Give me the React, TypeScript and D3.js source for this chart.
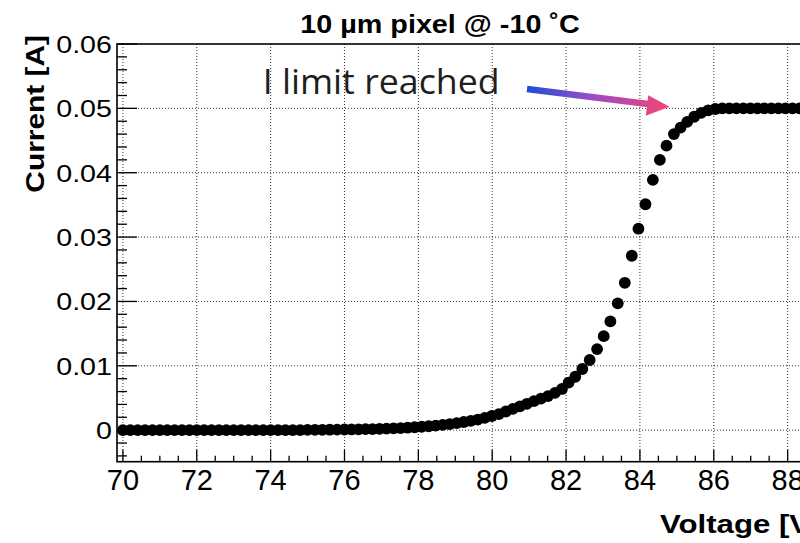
import React from "react";
import * as d3 from "d3";

// Measured I-V points (Voltage [V], Current [A])
const voltage = [
  70.0, 70.2, 70.4, 70.6, 70.8, 71.0, 71.2, 71.4, 71.6, 71.8,
  72.0, 72.2, 72.4, 72.6, 72.8, 73.0, 73.2, 73.4, 73.6, 73.8,
  74.0, 74.2, 74.4, 74.6, 74.8, 75.0, 75.2, 75.4, 75.6, 75.8,
  76.0, 76.19, 76.38, 76.57, 76.76, 76.95, 77.14, 77.33, 77.52, 77.71,
  77.9, 78.09, 78.28, 78.47, 78.66, 78.85, 79.04, 79.23, 79.42, 79.61,
  79.8, 79.99, 80.18, 80.37, 80.56, 80.75, 80.94, 81.13, 81.32, 81.51,
  81.7, 81.89, 82.07, 82.25, 82.44, 82.64, 82.84, 83.02, 83.2, 83.4,
  83.59, 83.78, 83.96, 84.15, 84.35, 84.54, 84.72, 84.92, 85.1, 85.28,
  85.47, 85.66, 85.85, 86.04, 86.23, 86.42, 86.61, 86.8, 86.99, 87.18,
  87.37, 87.56, 87.75, 87.94, 88.13, 88.32, 88.51, 88.7, 88.89, 89.08,
  89.27, 89.46, 89.65, 89.84, 90.03,
];
const current = [
  0, 0, 0, 0, 0, 0, 0, 0, 0, 0,
  0, 0, 0, 0, 0, 0, 0, 0, 0, 0,
  0, 0, 0, 0, 0, 0.00004, 0.00005, 0.00006, 0.00007, 0.00008,
  0.0001, 0.00011, 0.00013, 0.00015, 0.00017, 0.0002, 0.00023, 0.00027, 0.00032, 0.00038,
  0.00045, 0.00053, 0.00061, 0.0007, 0.00081, 0.00094, 0.0011, 0.00127, 0.00145, 0.00165,
  0.0019, 0.0022, 0.0025, 0.0029, 0.0033, 0.0037, 0.0041, 0.0045, 0.0049, 0.0053,
  0.0058, 0.0064, 0.0074, 0.0083, 0.0095, 0.0109, 0.0126, 0.0146, 0.0169, 0.0197,
  0.0229, 0.0271, 0.0313, 0.0351, 0.0389, 0.042, 0.0442, 0.046, 0.047, 0.0479,
  0.0487, 0.0493, 0.0497, 0.0499, 0.05, 0.05, 0.05, 0.05, 0.05, 0.05,
  0.05, 0.05, 0.05, 0.05, 0.05, 0.05, 0.05, 0.05, 0.05, 0.05,
  0.05, 0.05, 0.05, 0.05, 0.05,
];

const xTickValues = [70, 72, 74, 76, 78, 80, 82, 84, 86, 88, 90];
const xTickLabels = ["70", "72", "74", "76", "78", "80", "82", "84", "86", "88", "90"];
const yTickValues = [0, 0.01, 0.02, 0.03, 0.04, 0.05, 0.06];
const yTickLabels = ["0", "0.01", "0.02", "0.03", "0.04", "0.05", "0.06"];

const titleText = "10 µm pixel @ -10 ˚C";
const xTitle = "Voltage [V]";
const yTitle = "Current [A]";
const noteText = "I limit reached";

export default function App() {
  const W = 800;
  const H = 543;
  const left = 117;
  const top = 44;
  const bottom = 461.7;
  const right = 861.5;
  const x = d3.scaleLinear().domain([69.84, 90]).range([left, right]);
  const y = d3.scaleLinear().domain([-0.0049, 0.06]).range([bottom, top]);

  const xMinor = d3.range(70, 90.001, 0.5).filter((v) => Math.abs(v / 2 - Math.round(v / 2)) > 1e-6);
  const yMinor = d3.range(-0.004, 0.0601, 0.002).filter((v) => Math.abs(v / 0.01 - Math.round(v / 0.01)) > 1e-6);

  const font = "'Liberation Sans', Arial, Helvetica, sans-serif";
  const pts = voltage.map((v, i) => [v, current[i]] as [number, number]);

  // arrow geometry
  const a0 = [527, 89];
  const a1 = [650, 104.3];
  const tip = [669.5, 106.8];
  const h1 = [648.3, 95.2];
  const h2 = [645.8, 115.8];

  return (
    <svg
      width={W}
      height={H}
      style={{ position: "absolute", left: 0, top: 0, background: "#fff", overflow: "hidden" }}
      xmlns="http://www.w3.org/2000/svg"
    >
      <defs>
        <linearGradient id="arrowGrad" gradientUnits="userSpaceOnUse" x1={527} y1={89} x2={670} y2={107}>
          <stop offset="0" stopColor="#1f4fd2" />
          <stop offset="0.45" stopColor="#9a4cc6" />
          <stop offset="1" stopColor="#f5456f" />
        </linearGradient>
        <clipPath id="plotClip">
          <rect x={left} y={top} width={right - left} height={bottom - top} />
        </clipPath>
      </defs>
      <rect x={0} y={0} width={W} height={H} fill="#fff" />

      {/* grid */}
      <g stroke="#333" strokeWidth={1} strokeDasharray="1 2" fill="none">
        {xTickValues.map((v) => (
          <line key={"gx" + v} x1={x(v)} x2={x(v)} y1={top} y2={bottom} />
        ))}
        {yTickValues.filter((v) => v < 0.06).map((v) => (
          <line key={"gy" + v} x1={left} x2={right} y1={y(v)} y2={y(v)} />
        ))}
      </g>

      {/* ticks */}
      <g stroke="#000" strokeWidth={1.3}>
        {xTickValues.map((v) => (
          <line key={"tx" + v} x1={x(v)} x2={x(v)} y1={bottom} y2={bottom - 12} />
        ))}
        {xMinor.map((v) => (
          <line key={"mx" + v} x1={x(v)} x2={x(v)} y1={bottom} y2={bottom - 6} />
        ))}
        {yTickValues.map((v) => (
          <line key={"ty" + v} x1={left} x2={left + 20} y1={y(v)} y2={y(v)} />
        ))}
        {yMinor.map((v) => (
          <line key={"my" + v} x1={left} x2={left + 10} y1={y(v)} y2={y(v)} />
        ))}
      </g>

      {/* frame */}
      <rect x={left} y={top} width={right - left} height={bottom - top} fill="none" stroke="#000" strokeWidth={1.6} />

      {/* data points */}
      <g clipPath="url(#plotClip)" fill="#000">
        {pts.map((p, i) => (
          <circle key={i} cx={x(p[0])} cy={y(p[1])} r={5.9} />
        ))}
      </g>

      {/* tick labels */}
      <g fontFamily={font} fontSize={29} fill="#000" textAnchor="middle">
        {xTickValues.filter((v) => x(v) < W).map((v, i) => (
          <text key={"lx" + v} x={x(v)} y={490}>
            {xTickLabels[i]}
          </text>
        ))}
      </g>
      <g fontFamily={font} fontSize={24.5} fill="#000" textAnchor="end">
        {yTickValues.map((v, i) => (
          <text key={"ly" + v} transform={`translate(112,${y(v)}) scale(1.17,1)`} dy="0.36em">
            {yTickLabels[i]}
          </text>
        ))}
      </g>

      {/* titles */}
      <text
        fontFamily={font}
        fontWeight="bold"
        fontSize={25}
        textAnchor="middle"
        transform="translate(440,33) scale(1.15,1)"
      >
        {titleText}
      </text>
      <text
        fontFamily={font}
        fontWeight="bold"
        fontSize={26}
        textAnchor="end"
        transform="translate(44,35) rotate(-90) scale(1.15,1)"
      >
        {yTitle}
      </text>
      <text fontFamily={font} fontWeight="bold" fontSize={26} transform="translate(660,533) scale(1.2,1)">
        {xTitle}
      </text>

      {/* annotation */}
      <text
        x={262.7}
        y={94}
        fontFamily="'Open Sans', 'Noto Sans', sans-serif"
        fontWeight={400}
        fontSize={34}
        fill="#1e1e1e"
        textLength={237}
        lengthAdjust="spacingAndGlyphs"
      >
        {noteText}
      </text>
      <line x1={a0[0]} y1={a0[1]} x2={a1[0]} y2={a1[1]} stroke="url(#arrowGrad)" strokeWidth={6.5} />
      <polygon
        points={`${tip[0]},${tip[1]} ${h1[0]},${h1[1]} ${h2[0]},${h2[1]}`}
        fill="url(#arrowGrad)"
      />
    </svg>
  );
}
